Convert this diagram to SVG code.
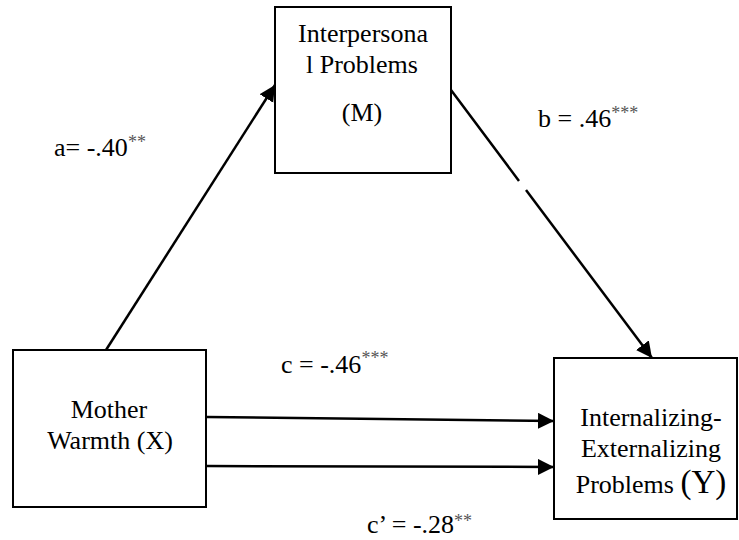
<svg xmlns="http://www.w3.org/2000/svg" width="739" height="540" viewBox="0 0 739 540">
<style>
.box{fill:#fff;stroke:#000;stroke-width:2}
.t{font-family:"Liberation Serif","Times New Roman",serif;font-size:26px;fill:#000}
.sup{font-size:18px;fill:#555}
.edge{fill:none;stroke:#000;stroke-width:2.5}
</style>
<defs>
<marker id="ah" markerUnits="userSpaceOnUse" markerWidth="18" markerHeight="18" refX="16" refY="8" orient="auto">
<path d="M0,0 L16,8 L0,16 z" fill="#000"/>
</marker>
</defs>
<rect width="739" height="540" fill="#fff"/>
<g id="connectors">
<path class="edge" d="M106,350 L275,85" marker-end="url(#ah)"/>
<path class="edge" d="M451,90 L519,181 M526,190 L652,358" marker-end="url(#ah)"/>
<path class="edge" d="M207,417 L554,421" marker-end="url(#ah)"/>
<path class="edge" d="M207,466 L554,467" marker-end="url(#ah)"/>
</g>
<g id="node-M">
<rect class="box" x="275" y="7" width="176" height="166"/>
<text class="t" x="363" y="42" text-anchor="middle">Interpersona</text>
<text class="t" x="362" y="73" text-anchor="middle">l Problems</text>
<text class="t" x="362" y="121" text-anchor="middle">(M)</text>
</g>
<g id="node-X">
<rect class="box" x="13" y="350" width="193" height="157"/>
<text class="t" x="109" y="418" text-anchor="middle">Mother</text>
<text class="t" x="110" y="449" text-anchor="middle">Warmth (X)</text>
</g>
<g id="node-Y">
<rect class="box" x="554" y="358" width="183" height="161"/>
<text class="t" x="651" y="426" text-anchor="middle">Internalizing-</text>
<text class="t" x="651" y="457" text-anchor="middle">Externalizing</text>
<text class="t" x="651" y="493" text-anchor="middle">Problems <tspan font-size="33px">(Y)</tspan></text>
</g>
<g id="labels">
<text class="t" x="54" y="156">a= -.40<tspan class="sup" y="148">**</tspan></text>
<text class="t" x="538" y="127">b = .46<tspan class="sup" y="119">***</tspan></text>
<text class="t" x="281" y="373">c = -.46<tspan class="sup" y="364">***</tspan></text>
<text class="t" x="367" y="533">c’ = -.28<tspan class="sup" y="527">**</tspan></text>
</g>
</svg>
